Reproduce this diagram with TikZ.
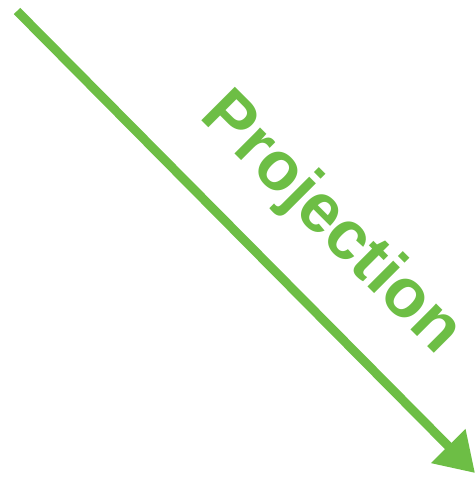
\documentclass[tikz,border=0pt]{standalone}
\usepackage{fontspec}
\setmainfont{Liberation Sans}
\usepackage{xcolor}
\usepackage{tikz}
\usetikzlibrary{arrows.meta}
\definecolor{projgreen}{RGB}{109,190,69}

\begin{document}
\begin{tikzpicture}[x=1pt, y=-1pt,
    projarrow/.style={draw=projgreen, line width=9pt, -{Triangle[length=38pt, width=46pt]}},
    projlabel/.style={text=projgreen, font=\fontsize{69}{69}\selectfont\bfseries, inner sep=0pt, rotate=-45, anchor=base}]
    % Frame
    \useasboundingbox (0,0) rectangle (475,477);
    % Ends of the arrow
    \coordinate (start) at (17,11);
    \coordinate (end) at (475,473);
    \draw[projarrow] (start) -- (end);
    % Label
    \node[projlabel] (lbl) at (318,237) {Projection};
\end{tikzpicture}
\end{document}
